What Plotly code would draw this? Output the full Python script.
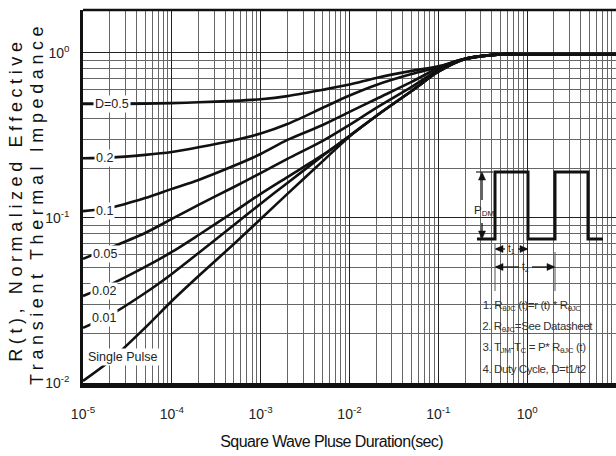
import numpy as np
import plotly.graph_objects as go

# ---------------- data ----------------
pulse_t = [1e-5, 2e-5, 5e-5, 1e-4, 2e-4, 5e-4, 1e-3, 2e-3, 5e-3, 1e-2, 2e-2, 5e-2,
           1e-1, 2e-1, 5e-1, 1.0, 10.0]
r_d050 = [0.49, 0.49, 0.493, 0.496, 0.502, 0.512, 0.524, 0.547, 0.598, 0.643, 0.705, 0.778,
          0.83, 0.92, 0.98, 0.98, 0.98]
r_d020 = [0.23, 0.232, 0.241, 0.251, 0.268, 0.296, 0.325, 0.371, 0.465, 0.552, 0.64, 0.745,
          0.82, 0.92, 0.98, 0.98, 0.98]
r_d010 = [0.11, 0.115, 0.132, 0.15, 0.17, 0.207, 0.244, 0.297, 0.366, 0.439, 0.526, 0.667,
          0.81, 0.92, 0.98, 0.98, 0.98]
r_d005 = [0.0565, 0.0658, 0.0811, 0.0986, 0.12, 0.154, 0.187, 0.228, 0.293, 0.366, 0.464, 0.622,
          0.79, 0.92, 0.98, 0.98, 0.98]
r_d002 = [0.0337, 0.0393, 0.0505, 0.0622, 0.0788, 0.109, 0.14, 0.177, 0.241, 0.314, 0.415, 0.588,
          0.77, 0.92, 0.98, 0.98, 0.98]
r_d001 = [0.0216, 0.0257, 0.0351, 0.0458, 0.0613, 0.0907, 0.122, 0.163, 0.238, 0.314, 0.415, 0.588,
          0.77, 0.92, 0.98, 0.98, 0.98]
r_single = [0.0103, 0.0136, 0.0216, 0.0314, 0.0445, 0.0696, 0.0986, 0.14, 0.221, 0.312, 0.415, 0.588,
            0.77, 0.92, 0.98, 0.98, 0.98]

series = [r_d050, r_d020, r_d010, r_d005, r_d002, r_d001, r_single]
curve_labels = ["D=0.5", "0.2", "0.1", "0.05", "0.02", "0.01", "Single Pulse"]

x_ticks = [1e-5, 1e-4, 1e-3, 1e-2, 1e-1, 1e0, 1e1]
x_ticktext = ["10<sup>-5</sup>", "10<sup>-4</sup>", "10<sup>-3</sup>", "10<sup>-2</sup>",
              "10<sup>-1</sup>", "10<sup>0</sup>", "10<sup>1</sup>"]
y_ticks = [1e-2, 1e-1, 1e0]
y_ticktext = ["10<sup>-2</sup>", "10<sup>-1</sup>", "10<sup>0</sup>"]

notes = [
    "1. R<sub>θJC</sub> (t)=r (t) * R<sub>θJC</sub>",
    "2. R<sub>θJC</sub>=See Datasheet",
    "3. T<sub>JM</sub>-T<sub>C</sub> = P* R<sub>θJC</sub> (t)",
    "4. Duty Cycle, D=t1/t2",
]

# ---------------- layout helpers ----------------
W, H = 616, 456
ML, MR, MT, MB = 83, 0, 10, 73
PW, PH = W - ML - MR, H - MT - MB


def px(x):
    return (x - ML) / PW


def py(y):
    return (H - MB - y) / PH


FONT = "Liberation Sans, Arial"

fig = go.Figure()
for s in series:
    fig.add_trace(go.Scatter(x=pulse_t, y=s, mode="lines",
                             line=dict(color="#111", width=2.6, shape="spline", smoothing=0.8),
                             hoverinfo="skip", showlegend=False))

# curve labels (log-space positions for annotations on log axes)
label_pos = [(-4.674, -0.309), (-4.753, -0.636), (-4.753, -0.958), (-4.753, -1.218),
             (-4.764, -1.442), (-4.764, -1.606), (-4.551, -1.842)]
annotations = []
for lab, (lx, ly) in zip(curve_labels, label_pos):
    annotations.append(dict(x=lx, y=ly, xref="x", yref="y", text=lab, showarrow=False,
                            xanchor="center", yanchor="middle",
                            font=dict(family=FONT, size=12.5, color="#222"),
                            bgcolor="white", borderpad=1))

shapes = []
# inset white box
shapes.append(dict(type="rect", xref="paper", yref="paper", x0=px(473), x1=px(607),
                   y0=py(381), y1=py(157), fillcolor="white", line=dict(width=0), layer="between"))
# square wave
pts = [(477, 239), (495, 239), (495, 172), (528, 172), (528, 239), (555, 239),
       (555, 172), (588, 172), (588, 239), (603, 239)]
path = "M " + " L ".join("{} {}".format(px(a), py(b)) for a, b in pts)
shapes.append(dict(type="path", xref="paper", yref="paper", path=path,
                   line=dict(color="#111", width=3), layer="above"))


def seg(x0, y0, x1, y1, color="#111", width=1.3):
    shapes.append(dict(type="line", xref="paper", yref="paper", x0=px(x0), x1=px(x1),
                       y0=py(y0), y1=py(y1), line=dict(color=color, width=width), layer="above"))


def head(xh, yh, d, L=8, w=3.5):
    # filled arrow head with tip at (xh, yh), pointing in direction d
    if d == "up":
        p = [(xh, yh), (xh - w, yh + L), (xh + w, yh + L)]
    elif d == "down":
        p = [(xh, yh), (xh - w, yh - L), (xh + w, yh - L)]
    elif d == "left":
        p = [(xh, yh), (xh + L, yh - w), (xh + L, yh + w)]
    else:
        p = [(xh, yh), (xh - L, yh - w), (xh - L, yh + w)]
    pth = "M " + " L ".join("{} {}".format(px(a), py(b)) for a, b in p) + " Z"
    shapes.append(dict(type="path", xref="paper", yref="paper", path=pth,
                       fillcolor="#111", line=dict(color="#111", width=0.5), layer="above"))


# P_DM
seg(476, 172, 493, 172, "#222", 1.2)
seg(482, 176, 482, 200)
head(482, 172, "up")
seg(482, 223, 482, 236)
head(482, 239, "down")
# t1
seg(496, 249, 505, 249)
head(495, 249, "left")
seg(518, 249, 527, 249)
head(528, 249, "right")
# t2
seg(496, 267, 519, 267)
head(495, 267, "left")
seg(532, 267, 554, 267)
head(555, 267, "right")
# extension lines for t1/t2
seg(495, 244, 495, 291, "#555", 1)
seg(555, 252, 555, 291, "#555", 1)
# top frame line
shapes.append(dict(type="line", xref="paper", yref="paper", x0=0, x1=1, y0=1, y1=1,
                   line=dict(color="#111", width=2.5), layer="above"))


def label(xc, yc, text, size, anchor="center", color="#222"):
    annotations.append(dict(x=px(xc), y=py(yc), xref="paper", yref="paper", text=text,
                            showarrow=False, xanchor=anchor, yanchor="middle",
                            font=dict(family=FONT, size=size, color=color)))


label(484, 211, "P<sub>DM</sub>", 11.5)
label(511.5, 249, "t<sub>1</sub>", 10)
label(525.5, 267, "t<sub>2</sub>", 10)
for i, n in enumerate(notes):
    label(476, 306 + 21 * i, n, 11.5, anchor="left", color="#333")

# axis titles
label(331, 441, "Square Wave Pluse Duration(sec)", 16, color="#111")
annotations.append(dict(x=px(16), y=py(200), xref="paper", yref="paper",
                        text="R(t), Normalized Effective", showarrow=False, textangle=-90,
                        xanchor="center", yanchor="middle",
                        font=dict(family=FONT, size=18, color="#111")))
annotations.append(dict(x=px(37), y=py(204), xref="paper", yref="paper",
                        text="Transient Thermal Impedance", showarrow=False, textangle=-90,
                        xanchor="center", yanchor="middle",
                        font=dict(family=FONT, size=18, color="#111")))

fig.update_layout(
    width=W, height=H, margin=dict(l=ML, r=MR, t=MT, b=MB),
    paper_bgcolor="white", plot_bgcolor="white",
    annotations=annotations, shapes=shapes,
    xaxis=dict(type="log", range=[-5, 1.0], tickvals=x_ticks, ticktext=x_ticktext,
               showgrid=True, gridcolor="#222", gridwidth=1.3,
               minor=dict(dtick="D1", showgrid=True, gridcolor="#666", gridwidth=1.1),
               ticks="", showline=True, linecolor="#111", linewidth=4.5,
               tickfont=dict(family=FONT, size=14, color="#222"), ticklabelstandoff=14,
               zeroline=False),
    yaxis=dict(type="log", range=[-2, 0.26], tickvals=y_ticks, ticktext=y_ticktext,
               showgrid=True, gridcolor="#222", gridwidth=1.3,
               minor=dict(dtick="D1", showgrid=True, gridcolor="#666", gridwidth=1.1),
               ticks="", showline=True, linecolor="#111", linewidth=2.5,
               tickfont=dict(family=FONT, size=14, color="#222"), ticklabelstandoff=8,
               zeroline=False),
)

# letter spacing: wide for the y title, slightly tight elsewhere (the reference uses a narrow face)
post = """
document.querySelectorAll('text.annotation-text').forEach(function(t){
  var s = t.textContent;
  if (s.indexOf('Normalized') >= 0 || s.indexOf('Transient') >= 0) {
    t.style.letterSpacing = '4.6px';
  } else if (s.indexOf('Square') >= 0) {
    t.style.letterSpacing = '-0.6px';
  } else if (/^[1-4]\\./.test(s)) {
    t.style.letterSpacing = '-0.4px';
  }
});
"""

fig.write_html("out.html", post_script=post)
